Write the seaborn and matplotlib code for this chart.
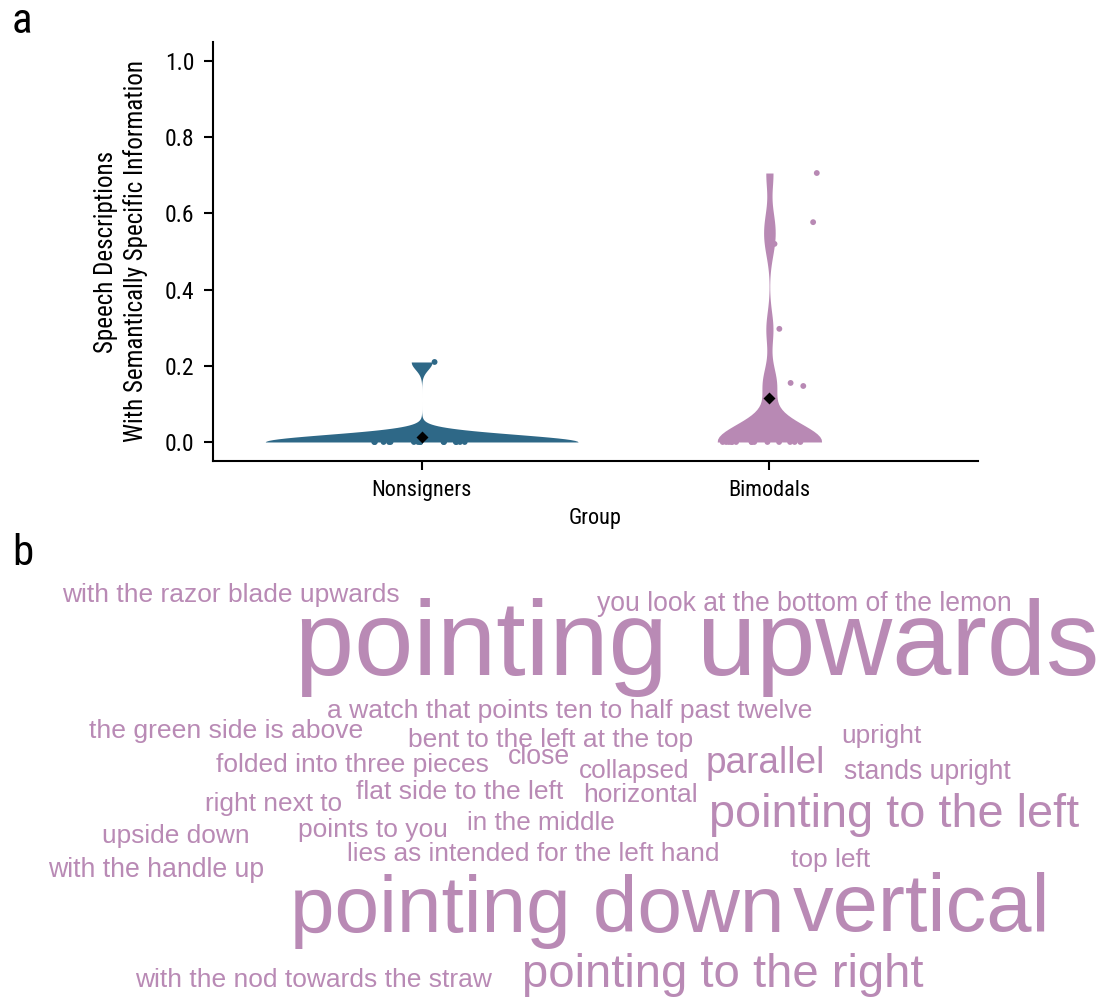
import numpy as np
import pandas as pd
import seaborn as sns
import matplotlib.pyplot as plt

# --- data ---
groups = ["Nonsigners", "Bimodals"]
nonsigners = [0.0, 0.0, 0.0, 0.0, 0.0, 0.0, 0.0, 0.0,
              0.0, 0.0, 0.0, 0.0, 0.0, 0.0, 0.0, 0.21]
bimodals = [0.0, 0.0, 0.0, 0.0, 0.0, 0.0, 0.0, 0.0, 0.0, 0.0, 0.0, 0.0, 0.0, 0.0,
            0.034, 0.147, 0.155, 0.297, 0.52, 0.577, 0.706]

phrases = [
    "with the razor blade upwards", "pointing upwards", "you look at the bottom of the lemon",
    "a watch that points ten to half past twelve", "the green side is above",
    "bent to the left at the top", "upright", "close", "folded into three pieces",
    "collapsed", "parallel", "stands upright", "flat side to the left", "horizontal",
    "right next to", "pointing to the left", "in the middle", "points to you",
    "upside down", "lies as intended for the left hand", "top left", "with the handle up",
    "pointing down", "vertical", "with the nod towards the straw", "pointing to the right",
]
# word cloud layout in image pixels: (left, right, baseline)
layout = [
    (62, 399, 602), (295, 1097, 675), (597, 1010, 611),
    (327, 810, 718), (89, 362, 738),
    (408, 691, 747), (841, 921, 743), (508, 570, 764), (216, 488, 772),
    (579, 689, 778), (706, 825, 773), (844, 1010, 779), (356, 562, 799), (583, 697, 802),
    (205, 342, 811), (709, 1078, 827), (467, 615, 830), (298, 447, 837),
    (102, 249, 843), (347, 719, 861), (791, 870, 867), (48, 263, 877),
    (290, 783, 932), (793, 1050, 931), (135, 491, 987), (522, 923, 987),
]

colors = {"Nonsigners": "#2e6887", "Bimodals": "#b889b4"}
word_color = "#b98ab5"
widths = [0.9, 0.30]
bw_adjusts = [0.66, 0.38]

df = pd.DataFrame({
    "group": ["Nonsigners"] * len(nonsigners) + ["Bimodals"] * len(bimodals),
    "value": nonsigners + bimodals,
})

sns.set_theme(style="ticks")
plt.rcParams['font.family'] = ['Liberation Sans Narrow', 'Noto Sans Condensed',
                               'Roboto Condensed', 'Roboto', 'DejaVu Sans']
plt.rcParams.update({
    'axes.linewidth': 1.5,
    'xtick.major.width': 1.5, 'ytick.major.width': 1.5,
    'xtick.major.size': 6.5, 'ytick.major.size': 6.5,
    'axes.edgecolor': 'black', 'xtick.color': 'black', 'ytick.color': 'black',
    'text.color': 'black', 'axes.labelcolor': 'black',
})

fig = plt.figure(figsize=(11.05, 9.99), dpi=100)

# --- panel b: word cloud on a pixel grid ---
wax = fig.add_axes([0, 0, 1, 1])
wax.set_xlim(0, 1105)
wax.set_ylim(999, 0)
wax.axis('off')
renderer = fig.canvas.get_renderer()
for phrase, (left, right, base) in zip(phrases, layout):
    t = wax.text(left, base, phrase, fontsize=20, ha='left', va='baseline',
                 color=word_color, family='Liberation Sans')
    bb = t.get_window_extent(renderer)
    t.set_fontsize(20 * (right - left) / bb.width)

# --- panel a: violins ---
ax = fig.add_axes([0.1928, 0.5385, 0.6923, 0.4195])
for g, w, bw in zip(groups, widths, bw_adjusts):
    sns.violinplot(data=df[df["group"] == g], x="group", y="value", order=groups,
                   color=colors[g], width=w, bw_adjust=bw, cut=0, inner=None,
                   linewidth=0, saturation=1, ax=ax)

np.random.seed(11)
sns.stripplot(data=df, x="group", y="value", order=groups, hue="group",
              palette=colors, jitter=0.14, size=4.2, legend=False, ax=ax, zorder=3)
sns.pointplot(data=df, x="group", y="value", order=groups, errorbar=None,
              color="black", marker="D", linestyle="none", markersize=4, ax=ax, zorder=5)

ax.set_xlim(-0.6, 1.6)
ax.set_ylim(-0.05, 1.05)
ax.set_yticks([0.0, 0.2, 0.4, 0.6, 0.8, 1.0])
ax.set_yticklabels(["0.0", "0.2", "0.4", "0.6", "0.8", "1.0"])
ax.tick_params(axis='y', labelsize=17, pad=7)
ax.tick_params(axis='x', labelsize=16, pad=7)
ax.set_xlabel("Group", fontsize=16, labelpad=5)
ax.set_ylabel("Speech Descriptions\nWith Semantically Specific Information",
              fontsize=18, linespacing=1.25, labelpad=12)
sns.despine(ax=ax)

fig.text(12 / 1105, 1 - 33 / 999, "a", fontsize=31, va='baseline')
fig.text(12 / 1105, 1 - 565 / 999, "b", fontsize=31, va='baseline')

fig.savefig("out.png", dpi=100)
